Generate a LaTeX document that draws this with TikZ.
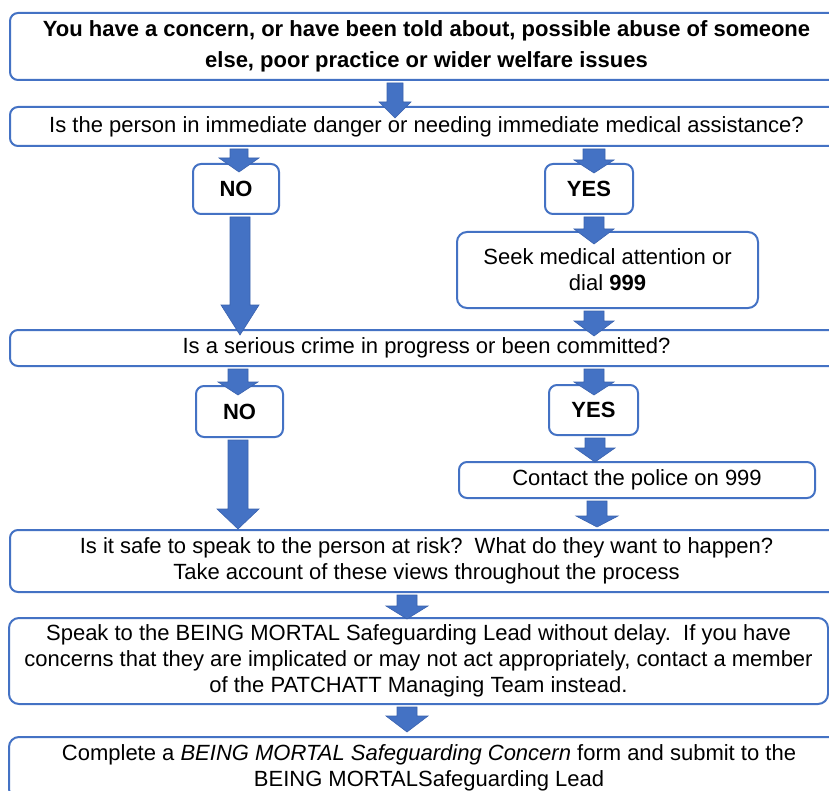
\documentclass[tikz,border=0pt]{standalone}
\usepackage{fontspec}
\setmainfont{Liberation Sans}
\usetikzlibrary{calc}
\definecolor{boxblue}{HTML}{4472C4}
\definecolor{arrowblue}{HTML}{4472C4}
\definecolor{arrowedge}{HTML}{3A62AE}
\tikzset{flowbox/.style={draw=boxblue,line width=1pt,fill=white,rounded corners=4pt,inner sep=0pt,align=center,
    font=\fontsize{11}{13}\selectfont},
  answer/.style={flowbox,font=\fontsize{11}{13}\selectfont\bfseries},
  arrsw/.store in=\arrsw, arrhw/.store in=\arrhw, arrhl/.store in=\arrhl,
  arrdip/.store in=\arrdip, arrdx/.store in=\arrdx,
  arrsw=5pt, arrhw=10pt, arrhl=7pt, arrdip=5pt, arrdx=0pt,
  bigarrow/.style={fill=arrowblue,draw=arrowedge,line width=0.3pt,
    to path={let \p1=(\tikztostart), \p2=(\tikztotarget) in
      (\x1+\arrdx-\arrsw,\y1-1pt) -- (\x1+\arrdx-\arrsw,\y2-\arrdip+\arrhl)
      -- (\x1+\arrdx-\arrhw,\y2-\arrdip+\arrhl) -- (\x1+\arrdx,\y2-\arrdip)
      -- (\x1+\arrdx+\arrhw,\y2-\arrdip+\arrhl) -- (\x1+\arrdx+\arrsw,\y2-\arrdip+\arrhl)
      -- (\x1+\arrdx+\arrsw,\y1-1pt) -- cycle}},
}

\begin{document}
\begin{tikzpicture}[x=0.5pt,y=-0.5pt]
		\useasboundingbox (0,0) rectangle (829,791);
		\clip (0,0) rectangle (829,791);
		% question column
		\node[flowbox,minimum width=416.5pt,minimum height=33.5pt,font=\fontsize{11}{15.5}\selectfont\bfseries] (q1) at (426.5,46.5)
			{You have a concern, or have been told about, possible abuse of someone\\else, poor practice or wider welfare issues};
		\node[flowbox,minimum width=416.5pt,minimum height=19.5pt] (q2) at (426.5,126.5)
			{Is the person in immediate danger or needing immediate medical assistance?};
		\node[answer,minimum width=43pt,minimum height=25pt] (no1) at (236,189) {NO};
		\node[answer,minimum width=44pt,minimum height=25pt] (yes1) at (589,189) {YES};
		\node[flowbox,minimum width=150.5pt,minimum height=38pt,rounded corners=5pt] (seek) at (607.5,270)
			{Seek medical attention or\\dial \textbf{999}};
		\node[flowbox,minimum width=416.5pt,minimum height=18pt] (q3) at (426.5,348)
			{Is a serious crime in progress or been committed?};
		\node[answer,minimum width=43.5pt,minimum height=25.5pt] (no2) at (239.5,411.5) {NO};
		\node[answer,minimum width=44.5pt,minimum height=25pt] (yes2) at (593.5,410) {YES};
		\node[flowbox,minimum width=178pt,minimum height=18pt] (police) at (637,480)
			{Contact the police on 999};
		\node[flowbox,minimum width=416.5pt,minimum height=31pt] (q4) at (426.5,561)
			{Is it safe to speak to the person at risk?\ \ What do they want to happen?\\Take account of these views throughout the process};
		\node[flowbox,minimum width=409.5pt,minimum height=43pt,rounded corners=5pt] (lead) at (418.5,661)
			{Speak to the BEING MORTAL Safeguarding Lead without delay.\ \ If you have\\concerns that they are implicated or may not act appropriately, contact a member\\of the PATCHATT Managing Team instead.};
		\node[flowbox,minimum width=420pt,minimum height=31pt,rounded corners=5pt] (form) at (429,768)
			{Complete a \textit{BEING MORTAL Safeguarding Concern} form and submit to the\\BEING MORTALSafeguarding Lead};

		% block arrows
		\draw[bigarrow,arrsw=4pt,arrhw=8pt,arrhl=8pt,arrdip=6pt] ([xshift=-15.75pt]q1.south) to (q2.north);
		\draw[bigarrow,arrdx=1.5pt,arrsw=4.5pt,arrhl=7pt,arrdip=4.5pt] (q2.south -| no1) to (no1.north);
		\draw[bigarrow,arrdx=2.5pt,arrsw=5.5pt,arrhl=6.5pt,arrdip=5pt] (q2.south -| yes1) to (yes1.north);
		\draw[bigarrow,arrdx=2.5pt,arrhl=7.5pt,arrdip=6.5pt] (yes1.south) to (seek.north);
		\draw[bigarrow,arrdx=2.5pt,arrhl=7.5pt,arrdip=3.5pt] (seek.south -| yes1) to (q3.north);
		\draw[bigarrow,arrdx=2pt,arrhw=9.5pt,arrhl=15pt,arrdip=3pt] (no1.south) to (q3.north);
		\draw[bigarrow,arrdx=-0.75pt,arrhl=6.5pt,arrdip=5pt] (q3.south -| no2) to (no2.north);
		\draw[bigarrow,arrdx=0.25pt,arrhl=6.5pt,arrdip=5.5pt] (q3.south -| yes2) to (yes2.north);
		\draw[bigarrow,arrdx=0.75pt,arrhl=7pt,arrdip=0.5pt] (yes2.south) to (police.north);
		\draw[bigarrow,arrdx=1.75pt,arrhw=10.5pt,arrhl=5.5pt,arrdip=-1pt] (police.south -| yes2) to (q4.north);
		\draw[bigarrow,arrdx=-0.75pt,arrhw=10.5pt,arrhl=10pt,arrdip=0pt] (no2.south) to (q4.north);
		\draw[bigarrow,arrhw=10.5pt,arrhl=6.5pt,arrdip=1pt] ([xshift=-9.75pt]q4.south) to (lead.north);
		\draw[bigarrow,arrhw=10.5pt,arrhl=8pt,arrdip=-2pt] ([xshift=-5.75pt]lead.south) to (form.north);
	\end{tikzpicture}
\end{document}
